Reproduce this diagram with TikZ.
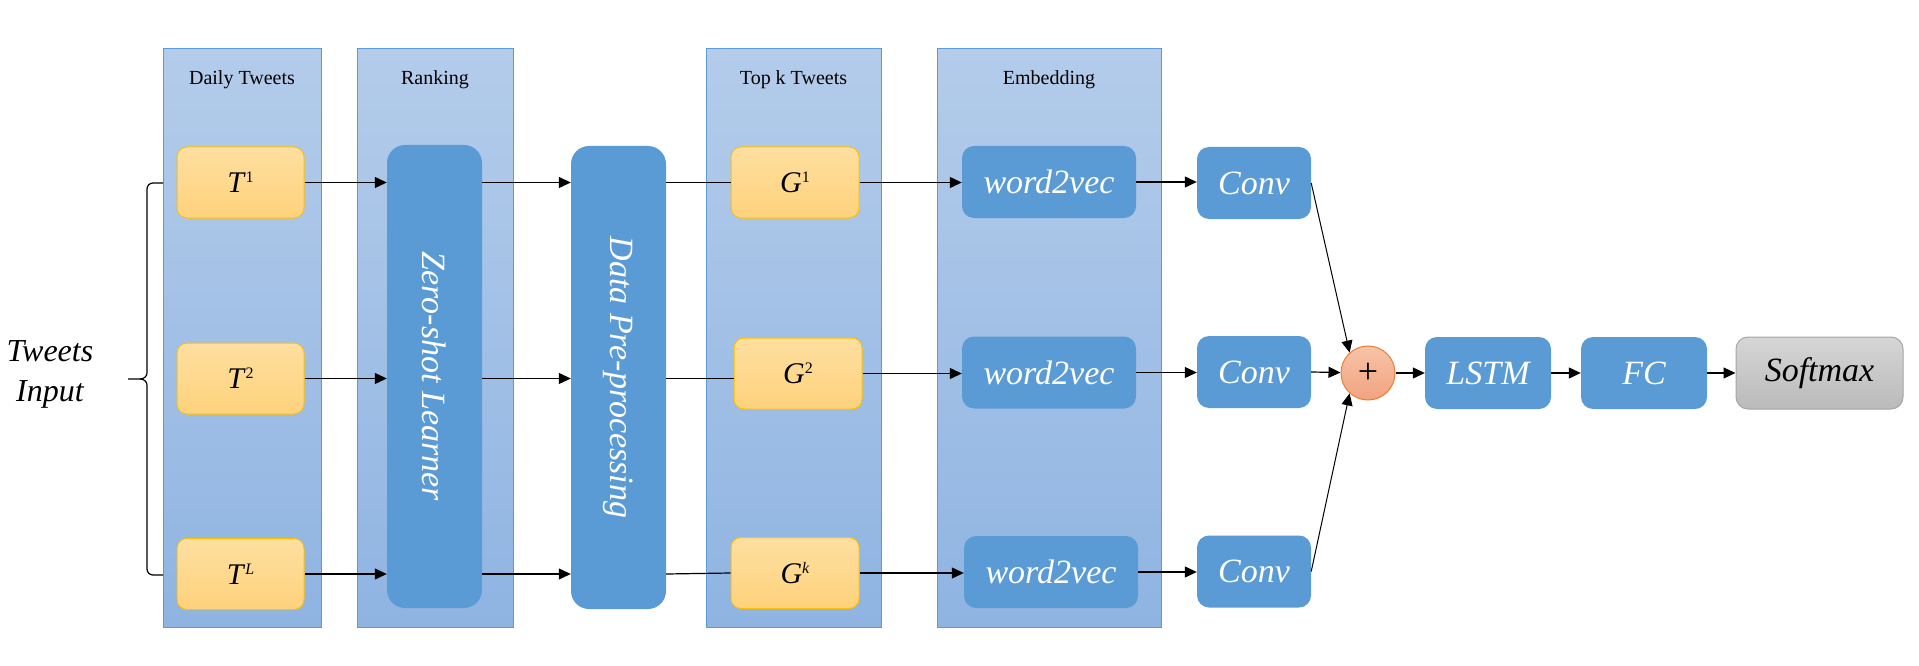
\documentclass[tikz,border=0pt]{standalone}
\usepackage{fontspec}
\setmainfont{LiberationSerif}[Extension=.ttf,UprightFont=*-Regular,ItalicFont=*-Italic,BoldFont=*-Bold,BoldItalicFont=*-BoldItalic]
\usetikzlibrary{arrows.meta}
\definecolor{panelT}{HTML}{B4CCEA}
\definecolor{panelB}{HTML}{8FB4E2}
\definecolor{panelE}{HTML}{5B9BD5}
\definecolor{bblue}{HTML}{5B9BD5}
\definecolor{yT}{HTML}{FEDFA0}
\definecolor{yB}{HTML}{FED27C}
\definecolor{yE}{HTML}{FFC000}
\definecolor{pT}{HTML}{F7C3A8}
\definecolor{pB}{HTML}{F2A37F}
\definecolor{pE}{HTML}{ED7D31}
\definecolor{sT}{HTML}{D6D6D6}
\definecolor{sB}{HTML}{BABABA}
\definecolor{sE}{HTML}{A5A5A5}
\newcommand{\supx}[1]{\raisebox{10pt}{\fontsize{16}{16}\selectfont #1}}
\tikzset{
  panel/.style={draw=panelE, line width=1pt, top color=panelT, bottom color=panelB, inner sep=0pt},
  ptitle/.style={font=\fontsize{20}{24}\selectfont, inner sep=0pt},
  ybox/.style={draw=yE, line width=1pt, rounded corners=10pt, top color=yT, bottom color=yB,
     minimum width=127pt, minimum height=71pt, inner sep=0pt, font=\fontsize{30}{32}\selectfont},
  bbox/.style={fill=bblue, rounded corners=12pt, text=white, inner sep=0pt,
     font=\fontsize{34}{40}\selectfont\itshape},
  tall/.style={bbox, rounded corners=18pt, minimum width=95pt, minimum height=463pt},
  w2v/.style={bbox, minimum width=174pt, minimum height=72pt},
  conv/.style={bbox, minimum width=114pt, minimum height=72pt},
  head/.style={bbox, minimum width=126pt, minimum height=72pt},
  smax/.style={draw=sE, line width=1pt, rounded corners=12pt, top color=sT, bottom color=sB,
     minimum width=167pt, minimum height=72pt, inner sep=0pt, font=\fontsize{34}{40}\selectfont\itshape},
  plusnode/.style={circle, draw=pE, line width=1pt, top color=pT, bottom color=pB,
     minimum size=54pt, inner sep=0pt, font=\fontsize{36}{36}\selectfont},
  arr/.style={-{Triangle[length=12pt,width=11pt]}, line width=1.2pt},
  ln/.style={line width=1.2pt},
}
\begin{document}
\begin{tikzpicture}[x=1pt,y=-1pt]
\useasboundingbox (0,0) rectangle (1919,666);
% panels
\node[panel, minimum width=158pt, minimum height=578pt] (p1) at (242,338) {};
\node[panel, minimum width=156pt, minimum height=578pt] (p2) at (435,338) {};
\node[panel, minimum width=175pt, minimum height=578pt] (p3) at (793.5,338) {};
\node[panel, minimum width=224pt, minimum height=578pt] (p4) at (1049,338) {};
\node[ptitle] (t1) at (242,80) {Daily Tweets};
\node[ptitle] (t2) at (435,80) {Ranking};
\node[ptitle] (t3) at (793.5,80) {Top k Tweets};
\node[ptitle] (t4) at (1049,80) {Embedding};
% input label
\node[align=center, font=\fontsize{32}{40}\selectfont\itshape, inner sep=0pt] (inp) at (50,374) {Tweets\\Input};
% tweet boxes
\node[ybox] (T1) at (240.5,182.5) {\textit{T}\supx{1}};
\node[ybox] (T2) at (240.5,378.5) {\textit{T}\supx{2}};
\node[ybox] (TL) at (240.5,574) {\textit{T}\supx{\textit{L}}};
% tall boxes
\node[tall] (Z) at (434.5,376.5) {\rotatebox{-90}{Zero-shot Learner}};
\node[tall] (D) at (618.5,377.5) {\rotatebox{-90}{Data Pre-processing}};
% G boxes
\node[ybox, minimum width=128pt] (G1) at (795,182.5) {\textit{G}\supx{1}};
\node[ybox, minimum width=128pt] (G2) at (798,373.5) {\textit{G}\supx{2}};
\node[ybox, minimum width=128pt] (Gk) at (795,573) {\textit{G}\supx{\textit{k}}};
% word2vec
\node[w2v] (W1) at (1049,182) {word2vec};
\node[w2v] (W2) at (1049,372.5) {word2vec};
\node[w2v] (W3) at (1051,572) {word2vec};
% conv
\node[conv] (C1) at (1254,183) {Conv};
\node[conv] (C2) at (1254,372) {Conv};
\node[conv] (C3) at (1254,571.5) {Conv};
% merge and head
\node[plusnode] (P) at (1368,373) {+};
\node[head] (L) at (1488,373) {LSTM};
\node[head] (F) at (1644,373) {FC};
\node[smax] (S) at (1819.5,373) {Softmax};
% brace
\coordinate (bt) at (163,183);
\coordinate (bb) at (163,575);
\coordinate (btip) at (128,379);
\draw[ln] (bt) -- (153,183) to[out=180,in=90] (147,189) -- (147,373)
   to[out=-90,in=0] (140,379) -- (btip);
\draw[ln] (bb) -- (153,575) to[out=180,in=-90] (147,569) -- (147,385)
   to[out=90,in=0] (140,379);
% row 1
\draw[arr] (T1.east) -- (T1.east -| Z.west);
\draw[arr] (T1.east -| Z.east) -- (T1.east -| D.west);
\draw[ln] (T1.east -| D.east) -- (G1.west);
\draw[arr] (G1.east) -- (G1.east -| W1.west);
\draw[arr] (W1.east) -- (W1.east -| C1.west);
% row 2
\draw[arr] (T2.east) -- (T2.east -| Z.west);
\draw[arr] (T2.east -| Z.east) -- (T2.east -| D.west);
\draw[ln] (T2.east -| D.east) -- (T2.east -| G2.west);
\draw[arr] (G2.east) -- (G2.east -| W2.west);
\draw[arr] (W2.east) -- (W2.east -| C2.west);
% row 3
\draw[arr] (TL.east) -- (TL.east -| Z.west);
\draw[arr] (TL.east -| Z.east) -- (TL.east -| D.west);
\draw[ln] (TL.east -| D.east) -- (Gk.west);
\draw[arr] (Gk.east) -- (Gk.east -| W3.west);
\draw[arr] (W3.east) -- (W3.east -| C3.west);
% merge
\draw[arr, line width=1pt] (C1.east) -- (P.132);
\draw[arr] (C2.east) -- (P);
\draw[arr, line width=1pt] (C3.east) -- (P.228);
\draw[arr] (P) -- (L);
\draw[arr] (L) -- (F);
\draw[arr] (F) -- (S);
\end{tikzpicture}
\end{document}
